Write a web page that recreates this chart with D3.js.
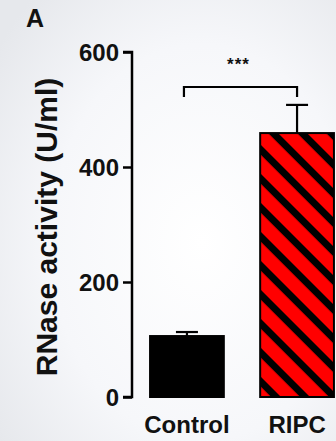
<!DOCTYPE html>
<html><head><meta charset="utf-8">
<script src="https://cdn.jsdelivr.net/npm/d3@7"></script>
<style>
html,body{margin:0;padding:0;}
body{width:336px;height:441px;overflow:hidden;background:#f1f3f6;}
svg{display:block;font-family:"Liberation Sans",Arial,sans-serif;font-weight:bold;}
</style></head><body>
<script>
const categories = ["Control", "RIPC"];
const values = [106, 459];
const errors = [7, 49];
const yTicks = [0, 200, 400, 600];
const panelLabel = "A";
const yTitle = "RNase activity (U/ml)";
const sigLabel = "***";

const W = 336, H = 441;
const svg = d3.select("body").append("svg").attr("width", W).attr("height", H);
const defs = svg.append("defs");

const bg = defs.append("radialGradient").attr("id","bg").attr("cx","0.6").attr("cy","0.55").attr("r","0.75");
bg.append("stop").attr("offset","0").attr("stop-color","#ffffff");
bg.append("stop").attr("offset","0.6").attr("stop-color","#f6f7fa");
bg.append("stop").attr("offset","1").attr("stop-color","#e6e8ec");
svg.append("rect").attr("width",W).attr("height",H).attr("fill","url(#bg)");

const pat = defs.append("pattern").attr("id","stripes").attr("patternUnits","userSpaceOnUse")
  .attr("width",20.5).attr("height",20.5).attr("patternTransform","rotate(45)");
pat.append("rect").attr("width",20.5).attr("height",20.5).attr("fill","#ff0000");
pat.append("rect").attr("x",0).attr("y",0).attr("width",20.5).attr("height",7).attr("fill","#000");

const y = d3.scaleLinear().domain([0, 600]).range([397, 52]);
const x = d3.scaleBand().domain(categories).range([132, 352]).paddingInner(0.33).paddingOuter(0.164);

// bars
const fills = ["#000", "url(#stripes)"];
svg.selectAll("rect.bar").data(categories).enter().append("rect")
  .attr("class","bar")
  .attr("x", d => x(d))
  .attr("width", x.bandwidth())
  .attr("y", (d,i) => y(values[i]))
  .attr("height", (d,i) => y(0) - y(values[i]))
  .attr("fill", (d,i) => fills[i])
  .attr("stroke","#000").attr("stroke-width",2);

// error bars
const eb = svg.append("g").attr("stroke","#000").attr("stroke-width",2.2);
categories.forEach((c,i) => {
  const cx = x(c) + x.bandwidth()/2;
  eb.append("line").attr("x1",cx).attr("x2",cx).attr("y1",y(values[i])).attr("y2",y(values[i]+errors[i]));
  eb.append("line").attr("x1",cx-11).attr("x2",cx+11).attr("y1",y(values[i]+errors[i])).attr("y2",y(values[i]+errors[i]));
});

// y axis
const ax = svg.append("g").attr("transform","translate(132,0)")
  .call(d3.axisLeft(y).tickValues(yTicks).tickSize(9).tickPadding(4).tickFormat(d3.format("d")));
ax.select(".domain").attr("stroke","#000").attr("stroke-width",2.5).attr("d","M-9,52H0V397H-9");
ax.selectAll(".tick line").attr("stroke","#000").attr("stroke-width",2.5);
ax.selectAll(".tick text").attr("fill","#111").attr("font-size",24).attr("font-weight","bold")
  .attr("font-family","'Liberation Sans',Arial,sans-serif").attr("dy","0.36em");

// x labels
svg.selectAll("text.xl").data(categories).enter().append("text")
  .attr("class","xl").attr("x", d => x(d)+x.bandwidth()/2).attr("y", 433)
  .attr("text-anchor","middle").attr("font-size",24).attr("fill","#111").text(d => d);

// y title
svg.append("text").attr("transform","translate(57,227) rotate(-90)")
  .attr("text-anchor","middle").attr("font-size",30).attr("fill","#111").text(yTitle);

// panel label
svg.append("text").attr("x",26).attr("y",27).attr("font-size",25).attr("fill","#111").text(panelLabel);

// significance bracket
const x1 = x(categories[0]) + x.bandwidth()/2 - 3, x2 = x(categories[1]) + x.bandwidth()/2;
svg.append("path").attr("d",`M${x1},97V87H${x2}V97`).attr("fill","none").attr("stroke","#000").attr("stroke-width",2.2);
svg.append("text").attr("x",(x1+x2)/2 - 2).attr("y",70).attr("text-anchor","middle")
  .attr("font-size",17).attr("letter-spacing","1px").attr("fill","#111").text(sigLabel);
</script>
</body></html>
